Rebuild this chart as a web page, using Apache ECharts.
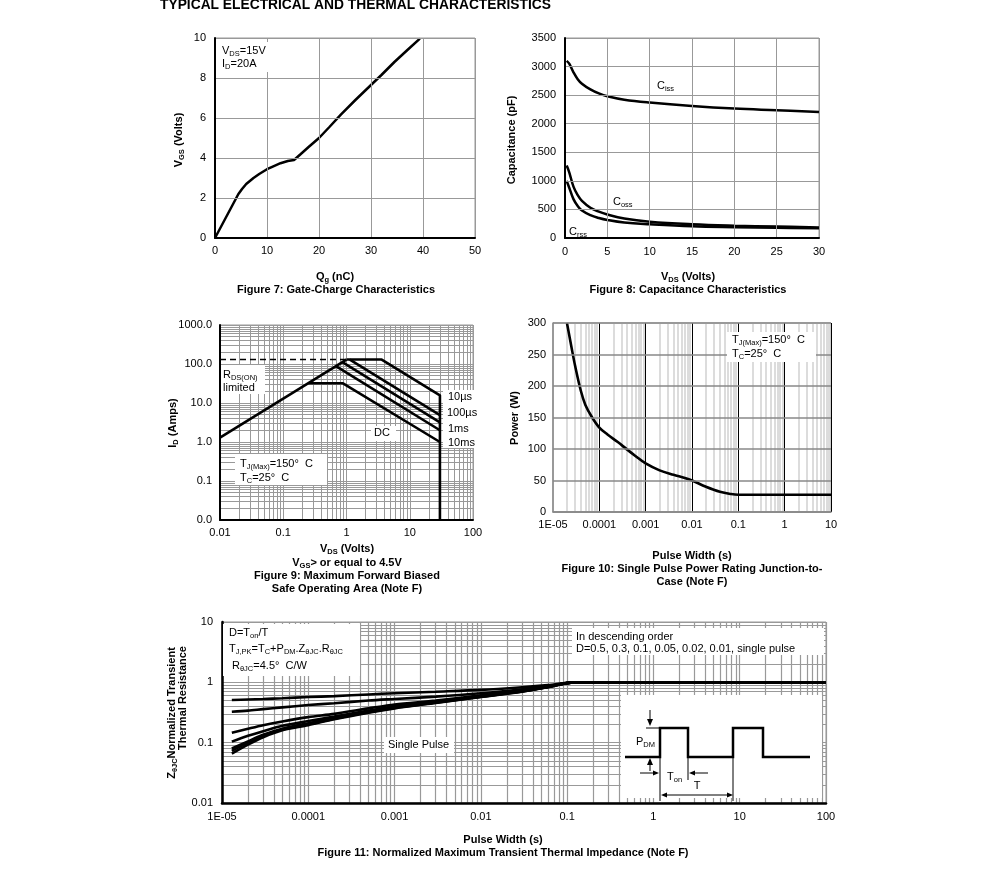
<!DOCTYPE html>
<html><head><meta charset="utf-8">
<script src="https://cdn.jsdelivr.net/npm/echarts@6/dist/echarts.min.js"></script>
<style>html,body{margin:0;padding:0;background:#fff}#c{width:991px;height:884px}</style>
</head><body><div id="c"></div>
<script>
// ---------- Figure 7: gate charge ----------
const qg  = [0, 4.5, 5.2, 6, 7.4, 8.5, 10, 11, 12.6, 14, 15.2, 16.5, 18, 20, 22, 24.2, 27, 30, 32, 34.5, 37, 39.4];
const vgs = [0, 2.2, 2.45, 2.7, 3.0, 3.2, 3.44, 3.56, 3.74, 3.85, 3.9, 4.2, 4.55, 5.0, 5.55, 6.17, 6.9, 7.65, 8.15, 8.8, 9.4, 9.97];
// ---------- Figure 8: capacitance ----------
const vds  = [0.2, 0.5, 1, 1.5, 2, 3, 4, 5, 7, 10, 15, 20, 25, 30];
const ciss = [3100, 3050, 2900, 2780, 2700, 2600, 2530, 2480, 2420, 2370, 2310, 2265, 2235, 2205];
const coss = [1270, 1150, 900, 750, 650, 530, 460, 410, 340, 285, 240, 215, 200, 185];
const crss = [1000, 880, 680, 560, 480, 400, 350, 315, 270, 240, 205, 190, 180, 170];
// ---------- Figure 9: SOA ----------
const rdsV = [0.01, 1],   rdsI = [1.3, 130];
const limV = [0.01, 1],   limI = [130, 130];
const us10V = [1, 3.6, 30, 30], us10I = [130, 130, 15.7, 0.01];
const us100V = [1.13, 30], us100I = [130, 4.9];
const ms1V = [0.86, 30],   ms1I = [112, 3.2];
const ms10V = [0.68, 30],  ms10I = [88, 2.0];
const dcV = [0.25, 0.88, 30], dcI = [32, 32, 1.0];
const x9Labels = ['0.01', '0.1', '1', '10', '100'];
const y9Labels = ['0.0', '0.1', '1.0', '10.0', '100.0', '1000.0'];
// ---------- Figure 10: single pulse power ----------
const pw10 = [2e-5, 2.5e-5, 3e-5, 4e-5, 5e-5, 7e-5, 1e-4, 1.5e-4, 2.5e-4, 4e-4, 6e-4, 1e-3, 2e-3, 4e-3, 7e-3, 1e-2, 2e-2, 4e-2, 7e-2, 0.1, 1, 10];
const pwr10 = [300, 262, 232, 192, 170, 150, 134, 123, 111, 99, 89, 77, 66, 59, 54, 50, 40, 32, 28.5, 27.5, 27.5, 27.5];
const x10Labels = ['1E-05', '0.0001', '0.001', '0.01', '0.1', '1', '10'];
// ---------- Figure 11: transient thermal impedance ----------
const t11 = [1.3e-5, 2e-5, 3e-5, 5e-5, 1e-4, 2e-4, 5e-4, 1e-3, 3e-3, 1e-2, 3e-2, 0.06, 0.12, 100];
const zD05  = [0.51, 0.52, 0.53, 0.545, 0.57, 0.59, 0.63, 0.66, 0.70, 0.75, 0.83, 0.90, 1.0, 1.0];
const zD03  = [0.325, 0.34, 0.36, 0.385, 0.42, 0.45, 0.50, 0.53, 0.58, 0.66, 0.77, 0.87, 1.0, 1.0];
const zD01  = [0.146, 0.17, 0.195, 0.225, 0.265, 0.30, 0.37, 0.43, 0.50, 0.61, 0.73, 0.85, 1.0, 1.0];
const zD005 = [0.104, 0.13, 0.155, 0.19, 0.228, 0.27, 0.34, 0.40, 0.48, 0.59, 0.72, 0.84, 1.0, 1.0];
const zD002 = [0.080, 0.105, 0.135, 0.17, 0.21, 0.255, 0.325, 0.385, 0.47, 0.58, 0.71, 0.84, 1.0, 1.0];
const zD001 = [0.073, 0.10, 0.13, 0.165, 0.20, 0.25, 0.32, 0.375, 0.46, 0.575, 0.705, 0.835, 1.0, 1.0];
const zSP   = [0.066, 0.093, 0.123, 0.16, 0.195, 0.245, 0.315, 0.37, 0.455, 0.57, 0.70, 0.83, 1.0, 1.0];
const x11Labels = ['1E-05', '0.0001', '0.001', '0.01', '0.1', '1', '10', '100'];
const y11Labels = ['0.01', '0.1', '1', '10'];

const F = "'Liberation Sans', Arial, sans-serif";
const zip = (a, b) => a.map((v, i) => [v, b[i]]);
function logVals(lo, hi, skipMajor, onlyMajor) {
  const out = [];
  for (let e = lo; e < hi; e++) for (let k = 1; k < 10; k++) {
    if (skipMajor && k === 1) continue;
    if (onlyMajor && k !== 1) continue;
    out.push(+(k * Math.pow(10, e)).toPrecision(6));
  }
  if (!skipMajor) out.push(Math.pow(10, hi));
  return out;
}
function gridLines(idx, vals, vertical, lo, hi, color, width) {
  return {
    type: 'lines', coordinateSystem: 'cartesian2d', xAxisIndex: idx, yAxisIndex: idx,
    polyline: false, silent: true, z: 1, animation: false,
    lineStyle: { color: color, width: width, opacity: 1, type: 'solid' },
    data: vals.map(v => ({ coords: vertical ? [[v, lo], [v, hi]] : [[lo, v], [hi, v]] }))
  };
}
function curve(idx, xs, ys, w, extra) {
  return Object.assign({
    type: 'line', xAxisIndex: idx, yAxisIndex: idx, data: zip(xs, ys),
    showSymbol: false, symbol: 'none', silent: true, z: 3,
    lineStyle: { color: '#000', width: w }
  }, extra || {});
}
const lab = { fontFamily: F, fontSize: 11, color: '#000' };
const plain = v => String(v);
const blackAxis = { show: true, onZero: false, lineStyle: { color: '#000', width: 2 } };
const grayAxis = { show: true, onZero: false, lineStyle: { color: '#888', width: 1.5 } };
const gsplit = { show: true, lineStyle: { color: '#999', width: 1 } };

const grids = [
  { left: 215, top: 38, width: 260, height: 200 },
  { left: 565, top: 38, width: 254, height: 200 },
  { left: 220, top: 325, width: 253, height: 195 },
  { left: 553, top: 323, width: 278, height: 189 },
  { left: 222, top: 622, width: 604, height: 181 }
].map(g => Object.assign({ show: true, borderColor: '#999', borderWidth: 1, backgroundColor: 'transparent' }, g));

const xAxis = [
  { gridIndex: 0, type: 'value', min: 0, max: 50, interval: 10, z: 5, axisLine: blackAxis, axisTick: { show: false }, splitLine: gsplit, axisLabel: Object.assign({ margin: 7, formatter: plain }, lab) },
  { gridIndex: 1, type: 'value', min: 0, max: 30, interval: 5, z: 5, axisLine: blackAxis, axisTick: { show: false }, splitLine: gsplit, axisLabel: Object.assign({ margin: 8, formatter: plain }, lab) },
  { gridIndex: 2, type: 'log', min: 0.01, max: 100, z: 5, axisLine: blackAxis, axisTick: { show: false }, splitLine: { show: false }, minorSplitLine: { show: false },
    axisLabel: Object.assign({ margin: 7, formatter: v => x9Labels[Math.round(Math.log10(v)) + 2] || '' }, lab) },
  { gridIndex: 3, type: 'log', min: 1e-5, max: 10, z: 5, axisLine: grayAxis, axisTick: { show: false }, splitLine: { show: false },
    axisLabel: Object.assign({ margin: 7, formatter: v => x10Labels[Math.round(Math.log10(v)) + 5] || '' }, lab) },
  { gridIndex: 4, type: 'log', min: 1e-5, max: 100, z: 5, axisLine: Object.assign({}, blackAxis, { lineStyle: { color: '#000', width: 2.5 } }), axisTick: { show: false }, splitLine: { show: false },
    axisLabel: Object.assign({ margin: 8, formatter: v => x11Labels[Math.round(Math.log10(v)) + 5] || '' }, lab) }
];
const yAxis = [
  { gridIndex: 0, type: 'value', min: 0, max: 10, interval: 2, z: 5, axisLine: blackAxis, axisTick: { show: false }, splitLine: gsplit, axisLabel: Object.assign({ margin: 9, formatter: plain }, lab) },
  { gridIndex: 1, type: 'value', min: 0, max: 3500, interval: 500, z: 5, axisLine: blackAxis, axisTick: { show: false }, splitLine: gsplit, axisLabel: Object.assign({ margin: 9, formatter: plain }, lab) },
  { gridIndex: 2, type: 'log', min: 0.01, max: 1000, z: 5, axisLine: blackAxis, axisTick: { show: false }, splitLine: { show: false },
    axisLabel: Object.assign({ margin: 8, formatter: v => y9Labels[Math.round(Math.log10(v)) + 2] || '' }, lab) },
  { gridIndex: 3, type: 'value', min: 0, max: 300, interval: 50, z: 5, axisLine: grayAxis, axisTick: { show: false },
    splitLine: { show: true, lineStyle: { color: '#888', width: 1.5 } }, axisLabel: Object.assign({ margin: 7, formatter: plain }, lab) },
  { gridIndex: 4, type: 'log', min: 0.01, max: 10, z: 5, axisLine: Object.assign({}, blackAxis, { lineStyle: { color: '#000', width: 2.5 } }), axisTick: { show: false }, splitLine: { show: false },
    axisLabel: Object.assign({ margin: 9, formatter: v => y11Labels[Math.round(Math.log10(v)) + 2] || '' }, lab) }
];

const series = [
  // grid lines for log charts
  gridLines(2, logVals(-2, 2), true, 0.01, 1000, '#999', 1),
  gridLines(2, logVals(-2, 3), false, 0.01, 100, '#999', 1),
  gridLines(3, logVals(-5, 1, true), true, 0, 300, '#d0d0d0', 1.5),
  gridLines(3, logVals(-4, 2, false, true), true, 0, 300, '#000', 1),
  gridLines(4, logVals(-5, 2), true, 0.01, 10, '#999', 1.2),
  gridLines(4, logVals(-2, 1), false, 1e-5, 100, '#999', 1.2),
  // Fig 7
  curve(0, qg, vgs, 2.5),
  // Fig 8
  curve(1, vds, ciss, 2.5, { smooth: 0.4 }),
  curve(1, vds, coss, 2.5, { smooth: 0.4 }),
  curve(1, vds, crss, 2.5, { smooth: 0.4 }),
  // Fig 9
  curve(2, limV, limI, 1.6, { lineStyle: { color: '#000', width: 1.6, type: [6, 4] } }),
  curve(2, rdsV, rdsI, 2.6),
  curve(2, us10V, us10I, 2.6),
  curve(2, us100V, us100I, 2.6),
  curve(2, ms1V, ms1I, 2.6),
  curve(2, ms10V, ms10I, 2.6),
  curve(2, dcV, dcI, 2.6),
  // Fig 10
  curve(3, pw10, pwr10, 2.6, { smooth: 0.35 }),
  // Fig 11
  curve(4, t11, zD05, 2.6, { smooth: 0.3 }),
  curve(4, t11, zD03, 2.6, { smooth: 0.3 }),
  curve(4, t11, zD01, 2.6, { smooth: 0.3 }),
  curve(4, t11, zD005, 2.6, { smooth: 0.3 }),
  curve(4, t11, zD002, 2.6, { smooth: 0.3 }),
  curve(4, t11, zD001, 2.6, { smooth: 0.3 }),
  curve(4, t11, zSP, 2.6, { smooth: 0.3 })
];

// ---------- texts ----------
const R = {
  n:  { fontFamily: F, fontSize: 11, lineHeight: 14, fill: '#000' },
  s:  { fontFamily: F, fontSize: 7.5, lineHeight: 8, verticalAlign: 'bottom', fill: '#000' },
  b:  { fontFamily: F, fontSize: 11, lineHeight: 14, fontWeight: 'bold', fill: '#000' },
  bs: { fontFamily: F, fontSize: 7.5, lineHeight: 8, fontWeight: 'bold', verticalAlign: 'bottom', fill: '#000' }
};
function T(x, y, text, o) {
  o = o || {};
  return { type: 'text', x: x, y: y, z: 100, rotation: o.rot || 0, silent: true,
    style: { text: text, rich: R, align: o.align || 'left', verticalAlign: 'middle', fontFamily: F, fontSize: 11, fill: '#000' } };
}
function box(x, y, w, h) { return { type: 'rect', z: 99, silent: true, shape: { x: x, y: y, width: w, height: h }, style: { fill: '#fff' } }; }
function ln(pts, w) { return { type: 'polyline', z: 101, silent: true, shape: { points: pts }, style: { stroke: '#000', lineWidth: w || 1, fill: null } }; }
function head(pts) { return { type: 'polygon', z: 101, silent: true, shape: { points: pts }, style: { fill: '#000' } }; }
const ROT = Math.PI / 2;

const graphic = [
  { type: 'text', x: 160, y: 12, z: 100, style: { text: 'TYPICAL ELECTRICAL AND THERMAL CHARACTERISTICS', fontFamily: F, fontSize: 13.8, fontWeight: 'bold', fill: '#000', verticalAlign: 'bottom' } },
  // Fig 7
  box(219, 42, 52, 30),
  T(222, 51, '{n|V}{s|DS}{n|=15V}'),
  T(222, 64, '{n|I}{s|D}{n|=20A}'),
  T(179, 140, '{b|V}{bs|GS}{b| (Volts)}', { rot: ROT, align: 'center' }),
  T(335, 277, '{b|Q}{bs|g}{b| (nC)}', { align: 'center' }),
  T(336, 290, '{b|Figure 7: Gate-Charge Characteristics}', { align: 'center' }),
  // Fig 8
  T(657, 86, '{n|C}{s|iss}'),
  T(613, 202, '{n|C}{s|oss}'),
  T(569, 232, '{n|C}{s|rss}'),
  T(512, 140, '{b|Capacitance (pF)}', { rot: ROT, align: 'center' }),
  T(688, 277, '{b|V}{bs|DS}{b| (Volts)}', { align: 'center' }),
  T(688, 290, '{b|Figure 8: Capacitance Characteristics}', { align: 'center' }),
  // Fig 9
  box(221, 365, 44, 29),
  T(223, 375, '{n|R}{s|DS(ON)}'),
  T(223, 388, '{n|limited}'),
  box(235, 454, 92, 31),
  T(240, 464, '{n|T}{s|J(Max)}{n|=150°  C}'),
  T(240, 478, '{n|T}{s|C}{n|=25°  C}'),
  box(443, 390, 31, 58),
  T(448, 397, '{n|10µs}'),
  T(447, 413, '{n|100µs}'),
  T(448, 429, '{n|1ms}'),
  T(448, 443, '{n|10ms}'),
  box(371, 426, 25, 15),
  T(382, 433, '{n|DC}', { align: 'center' }),
  T(173, 423, '{b|I}{bs|D}{b| (Amps)}', { rot: ROT, align: 'center' }),
  T(347, 549, '{b|V}{bs|DS}{b| (Volts)}', { align: 'center' }),
  T(347, 563, '{b|V}{bs|GS}{b|> or equal to 4.5V}', { align: 'center' }),
  T(347, 576, '{b|Figure 9: Maximum Forward Biased}', { align: 'center' }),
  T(347, 589, '{b|Safe Operating Area (Note F)}', { align: 'center' }),
  // Fig 10
  box(727, 332, 89, 30),
  T(732, 340, '{n|T}{s|J(Max)}{n|=150°  C}'),
  T(732, 354, '{n|T}{s|C}{n|=25°  C}'),
  T(515, 418, '{b|Power (W)}', { rot: ROT, align: 'center' }),
  T(692, 556, '{b|Pulse Width (s)}', { align: 'center' }),
  T(692, 569, '{b|Figure 10: Single Pulse Power Rating Junction-to-}', { align: 'center' }),
  T(692, 582, '{b|Case (Note F)}', { align: 'center' }),
  // Fig 11
  box(223, 624, 137, 52),
  T(229, 633, '{n|D=T}{s|on}{n|/T}'),
  T(229, 649, '{n|T}{s|J,PK}{n|=T}{s|C}{n|+P}{s|DM}{n|.Z}{s|θJC}{n|.R}{s|θJC}'),
  T(232, 666, '{n|R}{s|θJC}{n|=4.5°  C/W}'),
  box(572, 628, 252, 27),
  T(576, 637, '{n|In descending order}'),
  T(576, 649, '{n|D=0.5, 0.3, 0.1, 0.05, 0.02, 0.01, single pulse}'),
  box(384, 737, 70, 16),
  T(388, 745, '{n|Single Pulse}'),
  T(172, 713, '{b|Z}{bs|θJC}{b|Normalized Transient}', { rot: ROT, align: 'center' }),
  T(183, 698, '{b|Thermal Resistance}', { rot: ROT, align: 'center' }),
  T(503, 840, '{b|Pulse Width (s)}', { align: 'center' }),
  T(503, 853, '{b|Figure 11: Normalized Maximum Transient Thermal Impedance (Note F)}', { align: 'center' }),
  // inset
  box(621, 695, 201, 103),
  ln([[625, 757], [660, 757], [660, 728], [688, 728], [688, 757], [733, 757], [733, 728], [763, 728], [763, 757], [810, 757]], 2.5),
  ln([[646, 728], [660, 728]], 1),
  ln([[650, 710], [650, 723]], 1), head([[647, 719], [653, 719], [650, 726]]),
  ln([[650, 771], [650, 762]], 1), head([[647, 765], [653, 765], [650, 758]]),
  ln([[640, 773], [655, 773]], 1), head([[653, 770.5], [653, 775.5], [659, 773]]),
  ln([[708, 773], [693, 773]], 1), head([[695, 770.5], [695, 775.5], [689, 773]]),
  ln([[660, 757], [660, 801]], 1),
  ln([[688, 757], [688, 780]], 1),
  ln([[733, 757], [733, 801]], 1),
  ln([[664, 795], [729, 795]], 1), head([[667, 792.5], [667, 797.5], [661, 795]]), head([[727, 792.5], [727, 797.5], [733, 795]]),
  T(636, 742, '{n|P}{s|DM}'),
  T(667, 777, '{n|T}{s|on}'),
  T(697, 786, '{n|T}', { align: 'center' })
];

const chart = echarts.init(document.getElementById('c'));
chart.setOption({ animation: false, backgroundColor: '#fff', grid: grids, xAxis: xAxis, yAxis: yAxis, series: series, graphic: graphic });
</script></body></html>
